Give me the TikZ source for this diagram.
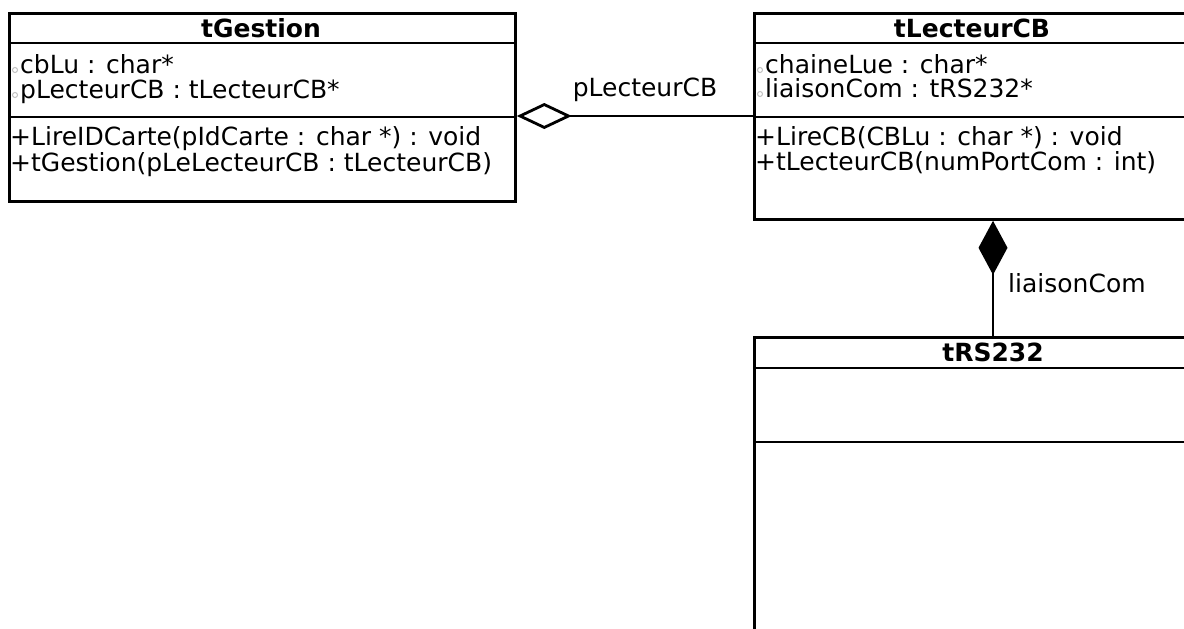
\documentclass[tikz,border=0pt]{standalone}
\usepackage{fontspec}
\setmainfont{DejaVu Sans}
\usetikzlibrary{arrows.meta}
\begin{document}
\begin{tikzpicture}[x=1pt,y=-1pt,
  box/.style={draw, line width=2.8pt, anchor=north west, inner sep=0pt},
  sepline/.style={line width=2.8pt},
  ttl/.style={font=\fontsize{25}{27}\selectfont\bfseries, inner sep=0pt, anchor=mid},
  row/.style={font=\fontsize{25}{27}\selectfont, inner sep=0pt, anchor=mid west},
  priv/.style={draw=gray!50, line width=1pt, circle, inner sep=0pt, minimum size=5pt},
  lbl/.style={font=\fontsize{25}{27}\selectfont, inner sep=0pt},
  conn/.style={line width=2.8pt}
]
\useasboundingbox (0,0) rectangle (1184,629);
\clip (0,0) rectangle (1184,629);
\fill[white] (0,0) rectangle (1184,629);

% tGestion
\node[box, minimum width=506pt, minimum height=188pt] (g) at (8,12) {};
\coordinate (gh) at (0,43);
\coordinate (gd) at (0,117);
\draw[sepline] (g.west |- gh) -- (g.east |- gh);
\draw[sepline] (g.west |- gd) -- (g.east |- gd);
\node[ttl] (gt) at (261,35) {tGestion};
\node[priv] (gp1) at (15,70) {};
\node[row] (ga1) at (20,71) {cbLu : char*};
\node[priv] (gp2) at (15,95) {};
\node[row] (ga2) at (20,96) {pLecteurCB : tLecteurCB*};
\node[row] (go1) at (10,143) {+LireIDCarte(pIdCarte : char *) : void};
\node[row] (go2) at (10,169) {+tGestion(pLeLecteurCB : tLecteurCB)};

% tLecteurCB
\node[box, minimum width=438pt, minimum height=206pt] (l) at (753,12) {};
\draw[sepline] (l.west |- gh) -- (l.east |- gh);
\draw[sepline] (l.west |- gd) -- (l.east |- gd);
\node[ttl] (lt) at (972,35) {tLecteurCB};
\node[priv] (lp1) at (760,70) {};
\node[row] (la1) at (765,71) {chaineLue : char*};
\node[priv] (lp2) at (760,94) {};
\node[row] (la2) at (765,95) {liaisonCom : tRS232*};
\node[row] (lo1) at (755,143) {+LireCB(CBLu : char *) : void};
\node[row] (lo2) at (755,168) {+tLecteurCB(numPortCom : int)};

% tRS232
\node[box, minimum width=480pt, minimum height=400pt] (r) at (753,336) {};
\coordinate (rh) at (0,368);
\coordinate (rd) at (0,442);
\draw[sepline] (r.west |- rh) -- (r.east |- rh);
\draw[sepline] (r.west |- rd) -- (r.east |- rd);
\node[ttl] (rt) at (993,359) {tRS232};

% aggregation
\coordinate (ay) at (0,116);
\draw[conn, {Diamond[open, length=55pt, width=26pt]}-] (g.east |- ay) -- (l.west |- ay);
\node[lbl] (al) at (645,90) {pLecteurCB};

% composition
\coordinate (cx) at (993,0);
\draw[conn, {Diamond[length=54pt, width=29pt]}-] (l.south -| cx) -- (r.north -| cx);
\node[lbl, anchor=mid west] (cl) at (1008,290) {liaisonCom};
\end{tikzpicture}
\end{document}
